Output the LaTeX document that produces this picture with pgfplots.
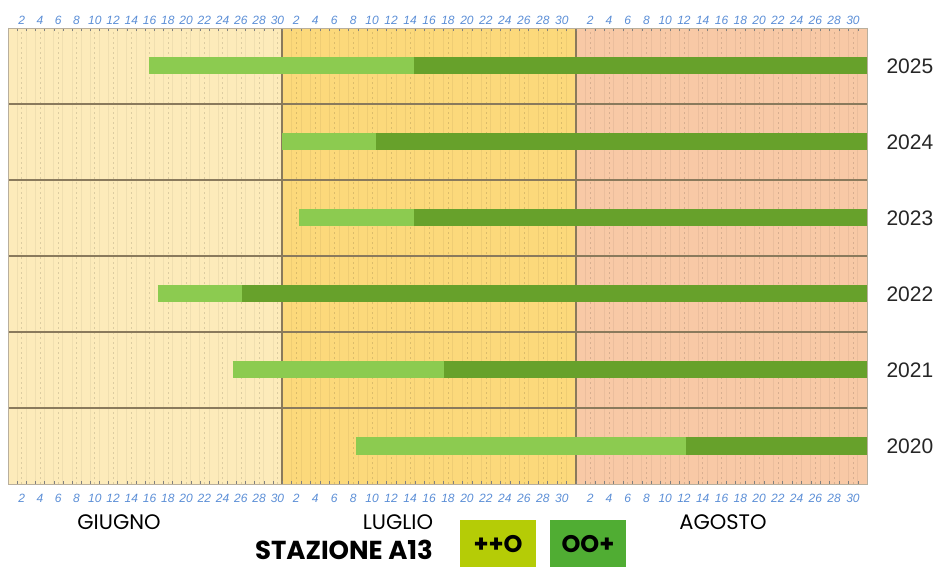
\documentclass[border=0pt]{standalone}
\usepackage{pgfplots}
\pgfplotsset{compat=1.18}
\usepackage{fontspec}
\setmainfont{Liberation Sans}
\newfontfamily\gothic{Poppins}

\definecolor{giugno}{HTML}{FDEBBA}
\definecolor{luglio}{HTML}{FCD97B}
\definecolor{agosto}{HTML}{F8C9A6}
\definecolor{chiaro}{HTML}{8CCB50}
\definecolor{scuro}{HTML}{67A12B}
\definecolor{leg1}{HTML}{B5CC06}
\definecolor{leg2}{HTML}{50AD33}
\definecolor{giorni}{HTML}{5B8ED6}
\definecolor{sep}{HTML}{8A7A5C}

% x = giorni dal 1 giugno (giugno 0-30, luglio 30-61, agosto 61-92)
% y = riga (2020 in basso, 2025 in alto)
% i mesi non hanno la stessa larghezza nel grafico: giugno e' piu' stretto
\pgfplotsset{
  mesi/.style={
    x coord trafo/.code={\pgfmathparse{ifthenelse(##1<30, ##1*9.133,
        ifthenelse(##1<61, 274+(##1-30)*9.484, 568+(##1-61)*9.387))}},
    xmin=0, xmax=92, ymin=0, ymax=6,
  },
  giornitick/.style={
    xtick={1.5,3.5,5.5,7.5,9.5,11.5,13.5,15.5,17.5,19.5,21.5,23.5,25.5,27.5,29.5,
           31.5,33.5,35.5,37.5,39.5,41.5,43.5,45.5,47.5,49.5,51.5,53.5,55.5,57.5,59.5,
           62.5,64.5,66.5,68.5,70.5,72.5,74.5,76.5,78.5,80.5,82.5,84.5,86.5,88.5,90.5},
    xticklabels={2,4,6,8,10,12,14,16,18,20,22,24,26,28,30,
                 2,4,6,8,10,12,14,16,18,20,22,24,26,28,30,
                 2,4,6,8,10,12,14,16,18,20,22,24,26,28,30},
    xticklabel style={font=\fontsize{12}{12}\selectfont\itshape, text=giorni, inner sep=1pt},
    major tick length=0pt,
  },
}

\begin{document}
\begin{tikzpicture}[x=1pt,y=1pt]
\path (-8,-83) rectangle (933,484);
\begin{axis}[
    set layers,
    at={(0,0)}, anchor=south west,
    scale only axis, width=859pt, height=456pt,
    mesi,
    giornitick,
    xticklabel pos=lower,
    xticklabel style={yshift=-9pt},
    minor xtick={0,1,...,92},
    xmajorgrids, xminorgrids,
    major grid style={black, draw opacity=0.13, dash pattern=on 2pt off 3pt, line width=0.6pt},
    minor grid style={black, draw opacity=0.05, line width=0.6pt},
    extra x ticks={30,61}, extra x tick labels={},
    extra x tick style={grid=major, major grid style={sep, draw opacity=1, line width=1.4pt, solid}},
    ytick={0.5,1.5,2.5,3.5,4.5,5.5},
    yticklabels={2020,2021,2022,2023,2024,2025},
    yticklabel pos=right,
    yticklabel style={font=\fontsize{21}{21}\selectfont, text=black!85, xshift=16pt},
    extra y ticks={1,2,3,4,5}, extra y tick labels={},
    extra y tick style={grid=major, major grid style={sep, draw opacity=1, line width=1.2pt, solid}},
    axis line style={draw=sep!60, line width=0.8pt},
]
% sfondi dei mesi
\addplot[on layer=axis background, fill=giugno, draw=none] coordinates {(0,6) (30,6)} \closedcycle;
\addplot[on layer=axis background, fill=luglio, draw=none] coordinates {(30,6) (61,6)} \closedcycle;
\addplot[on layer=axis background, fill=agosto, draw=none] coordinates {(61,6) (92,6)} \closedcycle;

% barre: ++O (chiaro) poi OO+ (scuro) fino al 31 agosto
% 2025
\addplot[chiaro, line width=17pt] coordinates {(15.4,5.5) (43.9,5.5)};
\addplot[scuro, line width=17pt] coordinates {(43.9,5.5) (92,5.5)};
% 2024
\addplot[chiaro, line width=17pt] coordinates {(30.0,4.5) (39.9,4.5)};
\addplot[scuro, line width=17pt] coordinates {(39.9,4.5) (92,4.5)};
% 2023
\addplot[chiaro, line width=17pt] coordinates {(31.8,3.5) (43.9,3.5)};
\addplot[scuro, line width=17pt] coordinates {(43.9,3.5) (92,3.5)};
% 2022
\addplot[chiaro, line width=17pt] coordinates {(16.4,2.5) (25.6,2.5)};
\addplot[scuro, line width=17pt] coordinates {(25.6,2.5) (92,2.5)};
% 2021
\addplot[chiaro, line width=17pt] coordinates {(24.6,1.5) (47.1,1.5)};
\addplot[scuro, line width=17pt] coordinates {(47.1,1.5) (92,1.5)};
% 2020
\addplot[chiaro, line width=17pt] coordinates {(37.8,0.5) (72.7,0.5)};
\addplot[scuro, line width=17pt] coordinates {(72.7,0.5) (92,0.5)};
\end{axis}

% numeri dei giorni in alto
\begin{axis}[
    at={(0,0)}, anchor=south west,
    scale only axis, width=859pt, height=456pt,
    mesi,
    giornitick,
    xticklabel pos=upper,
    xticklabel style={yshift=2pt},
    ytick=\empty,
    axis line style={draw=none},
]
\addplot[draw=none] coordinates {(0,0) (92,6)};
\end{axis}

% mesi e legenda
\node[font=\gothic\fontsize{21}{21}\selectfont] at (111,-38) {GIUGNO};
\node[font=\gothic\fontsize{21}{21}\selectfont] at (390,-38) {LUGLIO};
\node[font=\gothic\fontsize{21}{21}\selectfont] at (715,-38) {AGOSTO};
\node[font=\gothic\bfseries\fontsize{26}{26}\selectfont] at (336,-66) {STAZIONE A13};
\fill[leg1] (452,-36) rectangle (528,-83);
\node[font=\gothic\bfseries\fontsize{24}{24}\selectfont] at (490,-60) {++O};
\fill[leg2] (542,-36) rectangle (618,-83);
\node[font=\gothic\bfseries\fontsize{24}{24}\selectfont] at (580,-60) {OO+};
\end{tikzpicture}
\end{document}
